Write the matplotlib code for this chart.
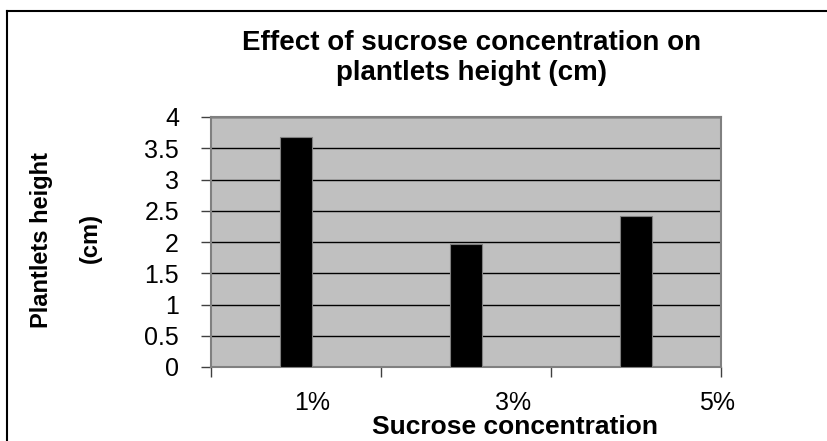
import matplotlib
matplotlib.use("Agg")
import matplotlib.pyplot as plt
import matplotlib.transforms as mtransforms
from matplotlib.lines import Line2D

# data
categories = ["1%", "3%", "5%"]
heights = [3.68, 1.97, 2.42]
y_ticks = [0, 0.5, 1, 1.5, 2, 2.5, 3, 3.5, 4]
y_tick_labels = ["0", "0.5", "1", "1.5", "2", "2.5", "3", "3.5", "4"]

title = "Effect of sucrose concentration on\nplantlets height (cm)"
x_label = "Sucrose concentration"
y_label_top = "Plantlets height"
y_label_bottom = "(cm)"

plt.rcParams["font.family"] = ["Liberation Sans", "DejaVu Sans"]

fig = plt.figure(figsize=(8.28, 4.41), dpi=100)
fig.patch.set_facecolor("white")
ax = fig.add_axes([211 / 828, 74 / 441, 510 / 828, 250 / 441])
ax.set_facecolor("#c0c0c0")

x = list(range(len(categories)))
ax.bar(x, heights, width=0.19, color="black", edgecolor="#808080", linewidth=0.8, zorder=3)

ax.set_xlim(-0.5, len(categories) - 0.5)
ax.set_ylim(0, 4)
ax.set_yticks(y_ticks)
ax.set_yticklabels(y_tick_labels, fontsize=18)
ax.yaxis.grid(True, color="black", linewidth=1.0, zorder=1)
ax.set_axisbelow(True)
ax.tick_params(axis="y", direction="out", length=7, width=1, color="#404040", pad=16)

# category boundaries carry the tick marks, centres carry the labels
ax.set_xticks([i - 0.5 for i in range(len(categories) + 1)])
ax.set_xticklabels([""] * (len(categories) + 1))
ax.tick_params(axis="x", which="major", direction="out", length=7, width=1, color="#404040")
ax.set_xticks(x, minor=True)
ax.set_xticklabels(categories, minor=True, fontsize=18)
ax.tick_params(axis="x", which="minor", length=0, pad=17)
shifts = [11.5, 34, 58]
for lbl, dx in zip(ax.get_xticklabels(minor=True), shifts):
    lbl.set_transform(lbl.get_transform() + mtransforms.ScaledTranslation(dx / 72, 0, fig.dpi_scale_trans))

for s in ax.spines.values():
    s.set_color("#808080")
    s.set_linewidth(1.5)

fig.text(515 / 828, 1 - 427 / 441, x_label, ha="center", va="center",
         fontsize=19, fontweight="bold")
fig.text(472 / 828, 1 - 58 / 441, title, ha="center", va="center",
         fontsize=20, fontweight="bold", linespacing=1.2)
fig.text(42 / 828, 1 - 240 / 441, y_label_top, rotation=90, ha="center", va="center",
         fontsize=17, fontweight="bold")
fig.text(90 / 828, 1 - 238 / 441, y_label_bottom, rotation=90, ha="center", va="center",
         fontsize=17, fontweight="bold")

# outer chart border
fig.add_artist(Line2D([7 / 828, 1.0], [1 - 11 / 441, 1 - 11 / 441], transform=fig.transFigure,
                      color="black", linewidth=1.5))
fig.add_artist(Line2D([7 / 828, 7 / 828], [0.0, 1 - 11 / 441], transform=fig.transFigure,
                      color="black", linewidth=1.5))

fig.savefig("out.png", dpi=100)
